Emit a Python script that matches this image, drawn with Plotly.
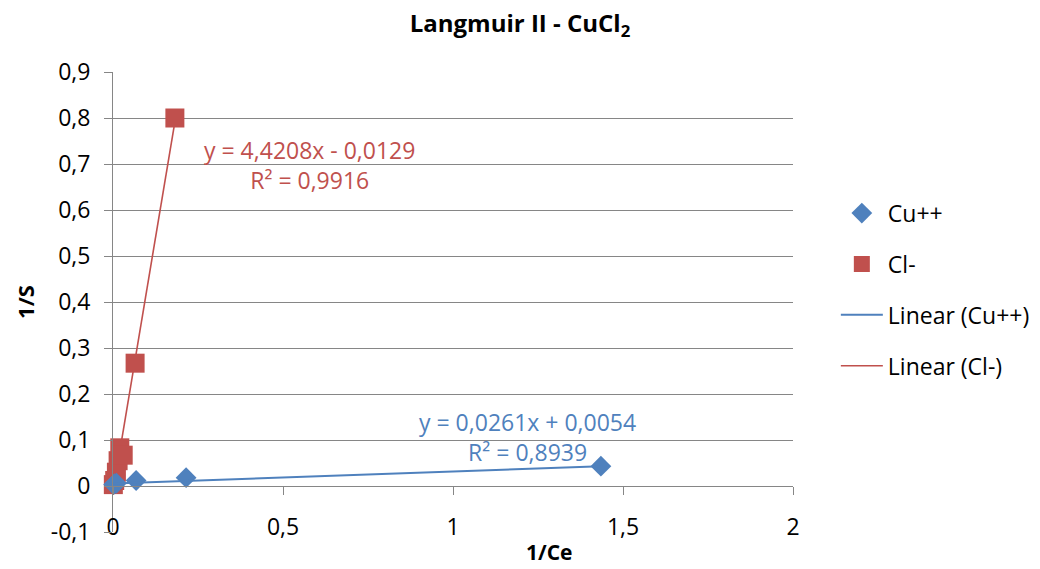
import plotly.graph_objects as go

# 1/Ce and 1/S values for each ion
cu_x = [0.002, 0.005, 0.010, 0.068, 0.215, 1.435]
cu_y = [0.003, 0.005, 0.006, 0.012, 0.018, 0.043]
cl_x = [0.001, 0.005, 0.010, 0.015, 0.020, 0.030, 0.065, 0.182]
cl_y = [0.003, 0.012, 0.030, 0.055, 0.083, 0.067, 0.267, 0.800]

# linear fits as reported in the trendline labels
cu_slope, cu_icpt, cu_r2 = 0.0261, 0.0054, 0.8939
cl_slope, cl_icpt, cl_r2 = 4.4208, -0.0129, 0.9916

y_ticks = [-0.1, 0, 0.1, 0.2, 0.3, 0.4, 0.5, 0.6, 0.7, 0.8, 0.9]
y_tick_text = ["-0,1", "0", "0,1", "0,2", "0,3", "0,4", "0,5", "0,6", "0,7", "0,8", "0,9"]
x_ticks = [0, 0.5, 1, 1.5, 2]
x_tick_text = ["0", "0,5", "1", "1,5", "2"]

BLUE = "#4F81BD"
RED = "#C0504D"
GRID = "#868686"
FONT = "Open Sans"


def fmt(v):
    return f"{abs(v):.4f}".replace(".", ",")


def fit_line(xs, slope, icpt):
    x0, x1 = min(xs), max(xs)
    return [x0, x1], [slope * x0 + icpt, slope * x1 + icpt]


fig = go.Figure()

lx, ly = fit_line(cl_x, cl_slope, cl_icpt)
fig.add_trace(go.Scatter(x=lx, y=ly, mode="lines", name="Linear (Cl-)",
                         line=dict(color=RED, width=1.6), legendrank=4,
                         legendgroup="d", cliponaxis=False))
fig.add_trace(go.Scatter(x=cl_x, y=cl_y, mode="markers", name="Cl-",
                         marker=dict(symbol="square", size=19, color=RED),
                         legendrank=2, legendgroup="b", cliponaxis=False))
fig.add_trace(go.Scatter(x=cu_x, y=cu_y, mode="markers", name="Cu++",
                         marker=dict(symbol="diamond", size=16, color=BLUE),
                         legendrank=1, legendgroup="a", cliponaxis=False))
lx, ly = fit_line(cu_x, cu_slope, cu_icpt)
fig.add_trace(go.Scatter(x=lx, y=ly, mode="lines", name="Linear (Cu++)",
                         line=dict(color=BLUE, width=2), legendrank=3,
                         legendgroup="c", cliponaxis=False))

cl_label = (f"y = {fmt(cl_slope)}x {'-' if cl_icpt < 0 else '+'} {fmt(cl_icpt)}"
            f"<br>R² = {fmt(cl_r2)}")
cu_label = (f"y = {fmt(cu_slope)}x {'-' if cu_icpt < 0 else '+'} {fmt(cu_icpt)}"
            f"<br>R² = {fmt(cu_r2)}")

fig.add_annotation(x=0.579, y=0.698, xref="x", yref="y", text=cl_label,
                   showarrow=False, align="center",
                   font=dict(family=FONT, size=23, color=RED))
fig.add_annotation(x=1.218, y=0.1065, xref="x", yref="y", text=cu_label,
                   showarrow=False, align="center",
                   font=dict(family=FONT, size=23, color=BLUE))
fig.add_annotation(x=0.641, y=(569 - 552 - 37) / (569 - 72 - 37),
                   xref="paper", yref="paper", yanchor="middle", text="<b>1/Ce</b>",
                   showarrow=False, font=dict(family=FONT, size=21, color="black"))

fig.update_layout(
    width=1040, height=569,
    margin=dict(l=113, r=247, t=72, b=37, autoexpand=False),
    paper_bgcolor="white", plot_bgcolor="white",
    font=dict(family=FONT, size=23, color="black"),
    title=dict(text="<b>Langmuir II - CuCl<sub>2</sub></b>", x=0.5, xanchor="center",
               y=0.958, yanchor="middle", font=dict(family=FONT, size=24)),
    showlegend=True,
    legend=dict(x=1.063, xanchor="left", y=0.74, yanchor="top",
                traceorder="grouped", tracegroupgap=18, itemwidth=42,
                font=dict(family=FONT, size=23), bgcolor="rgba(0,0,0,0)"),
    xaxis=dict(range=[0, 2], anchor="free", position=0.1,
               showgrid=False, zeroline=False,
               showline=True, linecolor=GRID, linewidth=1,
               ticks="outside", ticklen=8, tickcolor=GRID,
               tickvals=x_ticks, ticktext=x_tick_text, ticklabelstandoff=12),
    yaxis=dict(range=[-0.1, 0.9], showgrid=True, gridcolor=GRID, gridwidth=1,
               zeroline=False, showline=True, linecolor=GRID, linewidth=1,
               ticks="outside", ticklen=8, tickcolor=GRID,
               tickvals=y_ticks, ticktext=y_tick_text, ticklabelstandoff=9,
               title=dict(text="<b>1/S</b>", standoff=10,
                          font=dict(family=FONT, size=22))),
)

fig.write_html("out.html")
